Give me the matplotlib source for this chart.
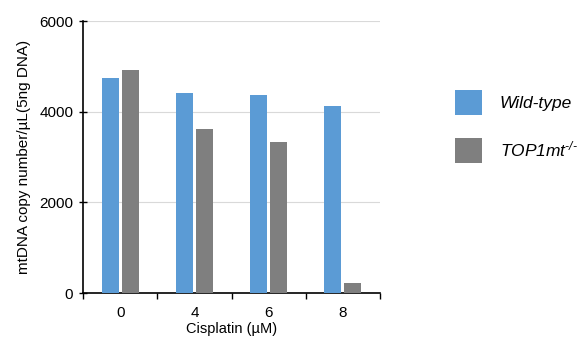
import matplotlib
matplotlib.use("Agg")
import matplotlib.pyplot as plt
import numpy as np

categories = ["0", "4", "6", "8"]
wild_type = [4745, 4410, 4365, 4120]
top1mt = [4915, 3615, 3330, 220]
series_labels = ["Wild-type", r"TOP1mt$^{\text{-/-}}$"]

plt.rcParams['font.family'] = ['Liberation Sans', 'DejaVu Sans']
plt.rcParams['mathtext.fontset'] = 'custom'
plt.rcParams['mathtext.it'] = 'Liberation Sans:italic'
plt.rcParams['mathtext.rm'] = 'Liberation Sans:italic'

fig = plt.figure(figsize=(5.81, 3.4), dpi=100)
ax = fig.add_axes([0.143, 0.138, 0.511, 0.8])

x = np.arange(len(categories))
w = 0.23
off = 0.135
b1 = ax.bar(x - off, wild_type, width=w, color="#5B9BD5", label=series_labels[0], zorder=3)
b2 = ax.bar(x + off, top1mt, width=w, color="#7F7F7F", label=series_labels[1], zorder=3)

ax.set_xlim(-0.5, len(categories) - 0.5)
ax.set_ylim(0, 6000)
ax.set_yticks([0, 2000, 4000, 6000])
ax.yaxis.grid(True, color="#D9D9D9", linewidth=0.8, zorder=0)
ax.set_xticks(x)
ax.set_xticklabels(categories, fontsize=11)
ax.tick_params(axis='x', length=0, pad=9)
ax.set_xticks(np.arange(-0.5, len(categories)), minor=True)
ax.tick_params(axis='x', which='minor', length=4, width=1)
ax.tick_params(axis='y', labelsize=11, length=6, width=1, direction='inout', pad=4)
for s in ["top", "right"]:
    ax.spines[s].set_visible(False)
ax.spines["left"].set_linewidth(1.2)
ax.spines["bottom"].set_linewidth(1.2)

ax.set_xlabel("Cisplatin (µM)", fontsize=10.5, labelpad=2)
ax.set_ylabel("mtDNA copy number/µL(5ng DNA)", fontsize=11, labelpad=6)

leg = fig.legend(handles=[b1, b2], labels=series_labels,
           loc="upper left", bbox_to_anchor=(0.757, 0.78), frameon=False,
           prop={'size': 12.5, 'style': 'italic'}, handlelength=1.55, handleheight=1.8,
           labelspacing=1.35, handletextpad=1.0)

fig.savefig("out.png", dpi=100)
